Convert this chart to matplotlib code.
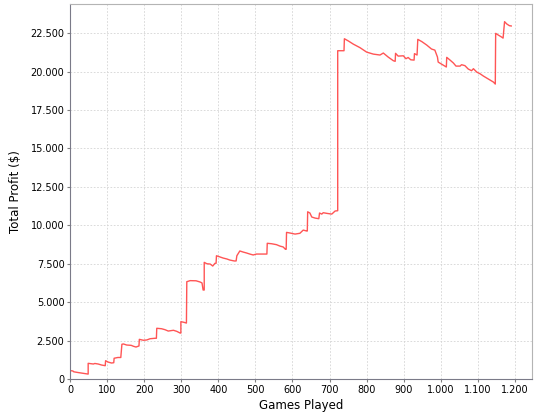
import matplotlib
matplotlib.use('Agg')
import matplotlib.pyplot as plt
import matplotlib.ticker as tkr

# cumulative profit (game number, profit in $);
# a repeated game number marks a jump
games = [0, 8, 10, 22, 36, 46, 49, 49, 63, 67, 76, 85, 95, 96, 103, 112, 118,
         119, 129, 137, 140, 144, 153, 165, 171, 178, 186, 187, 198, 207, 216,
         229, 233, 234, 247, 256, 265, 279, 288, 297, 299, 299, 307, 314, 315,
         324, 340, 351, 356, 359, 362, 362, 369, 378, 385, 391, 394, 395, 405,
         413, 423, 431, 443, 448, 450, 458, 467, 476, 485, 494, 503, 531, 532,
         544, 557, 566, 575, 581, 583, 584, 593, 607, 620, 629, 638, 640, 641,
         647, 652, 661, 671, 673, 679, 683, 692, 706, 715, 722, 722, 739, 740,
         751, 764, 782, 800, 818, 836, 845, 858, 872, 877, 878, 885, 899, 906,
         912, 919, 928, 929, 936, 938, 949, 962, 975, 984, 991, 993, 1002, 1015,
         1016, 1025, 1034, 1041, 1052, 1056, 1065, 1074, 1083, 1088, 1097, 1106,
         1115, 1124, 1133, 1142, 1147, 1148, 1155, 1164, 1168, 1172, 1178, 1185,
         1190]
profit = [550, 520, 470, 420, 370, 330, 320, 1020, 975, 1010, 975, 910, 865,
          1190, 1100, 1040, 1060, 1350, 1400, 1400, 2260, 2280, 2210, 2190,
          2130, 2080, 2150, 2580, 2520, 2540, 2620, 2650, 2650, 3300, 3270,
          3210, 3120, 3170, 3100, 2990, 2990, 3730, 3690, 3640, 6330, 6400,
          6390, 6310, 6250, 5790, 5790, 7590, 7500, 7480, 7350, 7530, 7530,
          8020, 7940, 7870, 7810, 7740, 7680, 7680, 8020, 8330, 8260, 8200,
          8130, 8070, 8130, 8130, 8830, 8800, 8740, 8650, 8590, 8440, 8440,
          9540, 9500, 9430, 9480, 9690, 9630, 9630, 10880, 10800, 10540, 10470,
          10430, 10800, 10730, 10820, 10780, 10730, 10930, 10950, 21360, 21360,
          22140, 21990, 21790, 21560, 21270, 21140, 21080, 21210, 20950, 20710,
          20670, 21190, 21010, 21030, 20840, 20920, 20770, 20750, 21170, 21080,
          22100, 21950, 21730, 21470, 21400, 20950, 20620, 20490, 20300, 20930,
          20750, 20560, 20360, 20360, 20450, 20390, 20170, 20060, 20190, 19970,
          19860, 19710, 19580, 19450, 19320, 19190, 22490, 22380, 22250, 22180,
          23250, 23100, 22990, 22970]

x_ticks = list(range(0, 1201, 100))
y_ticks = list(range(0, 22501, 2500))


def dotted(x, _):
    return '{:,.0f}'.format(x).replace(',', '.')


def main():
    fig = plt.figure(figsize=(5.4, 4.2), dpi=100)
    ax = fig.add_axes([70 / 540, 41 / 420, 462 / 540, 375 / 420])
    ax.plot(games, profit, color='#ff5555', lw=1.0)

    ax.set_xlim(0, 1246)
    ax.set_ylim(0, 24400)
    ax.set_xticks(x_ticks)
    ax.set_yticks(y_ticks)
    ax.xaxis.set_major_formatter(tkr.FuncFormatter(dotted))
    ax.yaxis.set_major_formatter(tkr.FuncFormatter(dotted))
    ax.tick_params(labelsize=7, length=2, width=0.8, color='#808080', pad=2)

    ax.grid(True, color='#d4d4d4', linestyle=(0, (2, 2)), linewidth=0.6)
    ax.set_axisbelow(True)
    for side in ['left', 'bottom']:
        ax.spines[side].set_color('#7a7a88')
    for side in ['top', 'right']:
        ax.spines[side].set_color('#b4b4b4')

    ax.set_xlabel('Games Played', fontsize=8.5, labelpad=3)
    ax.set_ylabel('Total Profit ($)', fontsize=8.5, labelpad=6)

    fig.savefig('out.png', dpi=100)


if __name__ == '__main__':
    main()
